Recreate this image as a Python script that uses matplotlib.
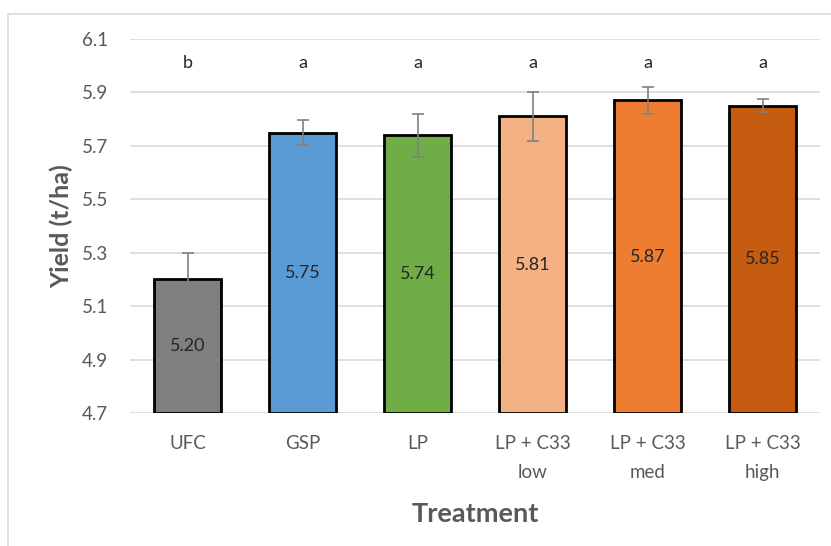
import matplotlib.pyplot as plt
from matplotlib.patches import Rectangle

# treatment data
treatments = ['UFC', 'GSP', 'LP', 'LP + C33\nlow', 'LP + C33\nmed', 'LP + C33\nhigh']
yields = [5.20, 5.75, 5.74, 5.81, 5.87, 5.85]
errors = [0.10, 0.045, 0.08, 0.09, 0.05, 0.025]
letters = ['b', 'a', 'a', 'a', 'a', 'a']
colors = ['#7F7F7F', '#5B9BD5', '#70AD47', '#F4B183', '#ED7D31', '#C55A11']

plt.rcParams['font.family'] = ['Lato', 'DejaVu Sans']
txt = '#595959'

fig = plt.figure(figsize=(8.31, 5.46), dpi=100)
# frame like the excel chart area
fig.patches.append(Rectangle((8 / 831, -0.1), 1.2, 1 - 14 / 546 + 0.1, transform=fig.transFigure,
                             fill=False, edgecolor='#D9D9D9', linewidth=1.2))
ax = fig.add_axes([130 / 831, 1 - 413 / 546, 690 / 831, 374 / 546])

x = range(len(treatments))
ymin = 4.7
ax.bar(x, [v - ymin for v in yields], bottom=ymin, width=0.58, color=colors,
       edgecolor='black', linewidth=2, zorder=3)
ax.errorbar(x, yields, yerr=errors, fmt='none', ecolor='#808080', elinewidth=1.2,
            capsize=4, capthick=1.2, zorder=4)

# value labels in the middle of the bars
for i, v in enumerate(yields):
    ax.text(i, (v + ymin) / 2, f'{v:.2f}', ha='center', va='center', fontsize=13,
            color='#262626', zorder=5)
# significance letters
for i, l in enumerate(letters):
    ax.text(i, 6.01, l, ha='center', va='center', fontsize=13, color='#262626')

ax.set_xlim(-0.5, 5.5)
ax.set_ylim(4.7, 6.1)
ax.set_yticks([4.7, 4.9, 5.1, 5.3, 5.5, 5.7, 5.9, 6.1])
ax.set_yticklabels(['4.7', '4.9', '5.1', '5.3', '5.5', '5.7', '5.9', '6.1'])
ax.set_xticks(list(x))
ax.set_xticklabels(treatments, linespacing=1.85)
ax.tick_params(axis='both', length=0, labelsize=13.5, labelcolor=txt)
ax.tick_params(axis='y', pad=16)
ax.tick_params(axis='x', pad=16)
ax.grid(axis='y', color='#D9D9D9', linewidth=1.2, zorder=0)
for s in ax.spines.values():
    s.set_visible(False)

ax.set_ylabel('Yield (t/ha)', fontsize=18, fontweight='bold', color=txt, labelpad=6)
ax.set_xlabel('Treatment', fontsize=19.5, fontweight='bold', color=txt, labelpad=15)

plt.savefig('out.png', dpi=100)
